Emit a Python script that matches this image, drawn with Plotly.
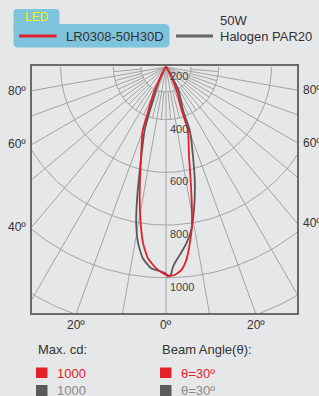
import numpy as np
import plotly.graph_objects as go

# ---------------- data ----------------
# LED LR0308-50H30D (angle from beam axis in degrees, candela)
led_angles = [-34, -30, -27, -26, -22.0, -20.1, -14.7, -11.5, -9.2, -7.4, -5.4, -2.8, -0.4,
              1.0, 2.4, 4.3, 6.0, 7.7, 9.2, 10.5, 12.3, 14.4, 19.2, 19.8, 24, 27, 30, 34]
led_cd = [200, 233, 263, 302, 379, 458, 578, 702, 801, 875, 929, 965, 986,
          992, 990, 973, 937, 875, 814, 739, 639, 551, 453, 376, 303, 258, 231, 200]

# 50W Halogen PAR20
hal_angles = [-32, -28, -25, -23.5, -20.4, -18.7, -15.4, -12.5, -10.8, -9.0, -6.9, -4.2, -1.3,
              0.1, 0.5, 1.3, 1.7, 2.5, 4.2, 6.6, 8.8, 10.7, 12.5, 14.3, 16.0, 19.1, 20.6,
              21.6, 28.5, 30, 32, 34]
hal_cd = [200, 240, 270, 295, 374, 452, 553, 704, 804, 877, 931, 966, 977,
          986, 995, 992, 971, 946, 915, 874, 826, 765, 704, 642, 580, 493, 455,
          375, 299, 260, 230, 200]

radial_tick_values = [200, 400, 600, 800, 1000]
radial_tick_labels = ["200", "400", "600", "800", "1000"]
grid_circle_values = [295, 400, 600, 800, 1000, 1200, 1400]
major_ray_angles = list(range(-80, 90, 10))
minor_ray_angles = [a for a in range(-85, 90, 10)]
side_angle_ticks = [80, 60, 40]
bottom_angle_ticks = [-20, 0, 20]

led_name = "LR0308-50H30D"
led_tag = "LED"
hal_name = ["50W", "Halogen PAR20"]
max_cd_values = [1000, 1000]
beam_angles = [30, 30]

CD_CENTER = 200  # candela value at the pole of the diagram

# ---------------- geometry (page pixels) ----------------
W, H = 319, 396
FL, FT, FR, FB = 32, 66, 297, 313  # frame edges in px
ML, MT = FL, FT
PW, PH = FR - FL, FB - FT
MR, MB = W - ML - PW, H - MT - PH
K = 0.2635                       # px per candela
CX, CY = 166, 67                 # pole position in px
x_range = [-(CX - FL) / K, (FR - CX) / K]
y_range = [-(FB - CY) / K, (CY - FT) / K]

BG = "#e6e7e9"
RED = "#e3212b"
DGRAY = "#5a5a5a"
GRID = "#a3a3a3"
TXT = "#333333"
FONT = "Liberation Sans, Arial, sans-serif"


def polar_xy(angles, cds):
    a = np.radians(np.asarray(angles, dtype=float))
    r = np.asarray(cds, dtype=float) - CD_CENTER
    return r * np.sin(a), -r * np.cos(a)


def px(x):
    return (x - FL) / PW


def py(y):
    return (FB - y) / PH


fig = go.Figure()

# grid: circles
gx, gy = [], []
th = np.linspace(-90, 90, 181)
for v in grid_circle_values:
    x, y = polar_xy(th, np.full_like(th, v))
    gx += list(x) + [None]
    gy += list(y) + [None]
# grid: major rays from the pole
for a in major_ray_angles:
    x, y = polar_xy([a, a], [CD_CENTER, 1600])
    gx += list(x) + [None]
    gy += list(y) + [None]
# grid: minor rays between inner circles
for a in minor_ray_angles:
    x, y = polar_xy([a, a], [grid_circle_values[0], grid_circle_values[1]])
    gx += list(x) + [None]
    gy += list(y) + [None]

fig.add_trace(go.Scatter(x=gx, y=gy, mode="lines", line=dict(color=GRID, width=1),
                         hoverinfo="skip", showlegend=False))

hx, hy = polar_xy(hal_angles, hal_cd)
fig.add_trace(go.Scatter(x=hx, y=hy, mode="lines", line=dict(color=DGRAY, width=1.8, shape="spline", smoothing=0.5),
                         name=" ".join(hal_name), showlegend=False))
lx, ly = polar_xy(led_angles, led_cd)
fig.add_trace(go.Scatter(x=lx, y=ly, mode="lines", line=dict(color=RED, width=1.8, shape="spline", smoothing=0.5),
                         name=led_name, showlegend=False))

annotations = []
# radial labels
for v, t in zip(radial_tick_values, radial_tick_labels):
    annotations.append(dict(x=0, y=-(v - CD_CENTER), xref="x", yref="y", text=t,
                            showarrow=False, xanchor="left", yanchor="top", xshift=2, yshift=-1,
                            font=dict(size=11, color="#444444", family=FONT)))
# side angle labels
x_left, x_right = x_range
for a in side_angle_ticks:
    t = np.tan(np.radians(a))
    annotations.append(dict(x=x_left, y=x_left / t, xref="x", yref="y", text=f"{a}º",
                            showarrow=False, xanchor="right", yanchor="middle", xshift=-4,
                            font=dict(size=12, color=TXT, family=FONT)))
    annotations.append(dict(x=x_right, y=-x_right / t, xref="x", yref="y", text=f"{a}º",
                            showarrow=False, xanchor="left", yanchor="middle", xshift=4,
                            font=dict(size=12, color=TXT, family=FONT)))
# bottom angle labels
y_bot = y_range[0]
for a in bottom_angle_ticks:
    annotations.append(dict(x=-y_bot * np.tan(np.radians(a)), y=y_bot, xref="x", yref="y",
                            text=f"{abs(a)}º", showarrow=False, xanchor="center", yanchor="top",
                            yshift=-3, font=dict(size=12, color=TXT, family=FONT)))


def text_px(x, y, s, color=TXT, size=13, anchor="left"):
    annotations.append(dict(x=px(x), y=py(y), xref="paper", yref="paper", text=s,
                            showarrow=False, xanchor=anchor, yanchor="middle",
                            font=dict(size=size, color=color, family=FONT)))


# header legend
text_px(37, 17, led_tag, color="#f6f10f", size=12, anchor="center")
text_px(64, 36.5, led_name)
text_px(218, 21, hal_name[0])
text_px(218, 36.5, hal_name[1])

# footer
text_px(36, 349, "Max. cd:")
text_px(160, 349, "Beam Angle(θ):")
text_px(55, 373, str(max_cd_values[0]), color=RED)
text_px(55, 390, str(max_cd_values[1]), color="#8a8a8a")
text_px(179, 373, f"θ={beam_angles[0]}º", color=RED)
text_px(179, 390, f"θ={beam_angles[1]}º", color="#8a8a8a")


def rrect_path(x0, y0, x1, y1, r):
    pts = [
        ("M", x0 + r, y0), ("L", x1 - r, y0), ("Q", x1, y0, x1, y0 + r),
        ("L", x1, y1 - r), ("Q", x1, y1, x1 - r, y1), ("L", x0 + r, y1),
        ("Q", x0, y1, x0, y1 - r), ("L", x0, y0 + r), ("Q", x0, y0, x0 + r, y0),
    ]
    out = []
    for p in pts:
        cmd = p[0]
        coords = p[1:]
        s = []
        for i in range(0, len(coords), 2):
            s.append(f"{px(coords[i]):.5f},{py(coords[i + 1]):.5f}")
        out.append(cmd + " ".join(s))
    return " ".join(out) + " Z"


BOX = "#7ec3dc"
shapes = [
    dict(type="path", xref="paper", yref="paper", path=rrect_path(13.5, 9, 59.5, 32, 4),
         fillcolor=BOX, line=dict(width=0), layer="above"),
    dict(type="path", xref="paper", yref="paper", path=rrect_path(13.5, 24, 169.5, 47.5, 5),
         fillcolor=BOX, line=dict(width=0), layer="above"),
    dict(type="line", xref="paper", yref="paper", x0=px(19), x1=px(56.5), y0=py(36), y1=py(36),
         line=dict(color=RED, width=3), layer="above"),
    dict(type="line", xref="paper", yref="paper", x0=px(176), x1=px(213), y0=py(36), y1=py(36),
         line=dict(color="#666666", width=3), layer="above"),
    dict(type="rect", xref="paper", yref="paper", x0=px(36), x1=px(47.5), y0=py(378), y1=py(367.5),
         fillcolor=RED, line=dict(width=0), layer="above"),
    dict(type="rect", xref="paper", yref="paper", x0=px(36), x1=px(47.5), y0=py(396), y1=py(385),
         fillcolor=DGRAY, line=dict(width=0), layer="above"),
    dict(type="rect", xref="paper", yref="paper", x0=px(160), x1=px(171.5), y0=py(378), y1=py(367.5),
         fillcolor=RED, line=dict(width=0), layer="above"),
    dict(type="rect", xref="paper", yref="paper", x0=px(160), x1=px(171.5), y0=py(396), y1=py(385),
         fillcolor=DGRAY, line=dict(width=0), layer="above"),
]

axis_common = dict(showgrid=False, zeroline=False, showticklabels=False, ticks="",
                   showline=True, mirror=True, linecolor="#6a6a6a", linewidth=2, fixedrange=True)
fig.update_layout(
    width=W, height=H,
    margin=dict(l=ML, r=MR, t=MT, b=MB, pad=0),
    paper_bgcolor=BG, plot_bgcolor=BG,
    xaxis=dict(range=x_range, **axis_common),
    yaxis=dict(range=y_range, **axis_common),
    annotations=annotations,
    shapes=shapes,
    showlegend=False,
    font=dict(family=FONT),
)

page_css = ("document.body.style.margin='0';document.body.style.padding='0';"
            "document.body.style.background='%s';document.body.style.overflow='hidden';" % BG)
fig.write_html("out.html", config=dict(displayModeBar=False), post_script=page_css)
